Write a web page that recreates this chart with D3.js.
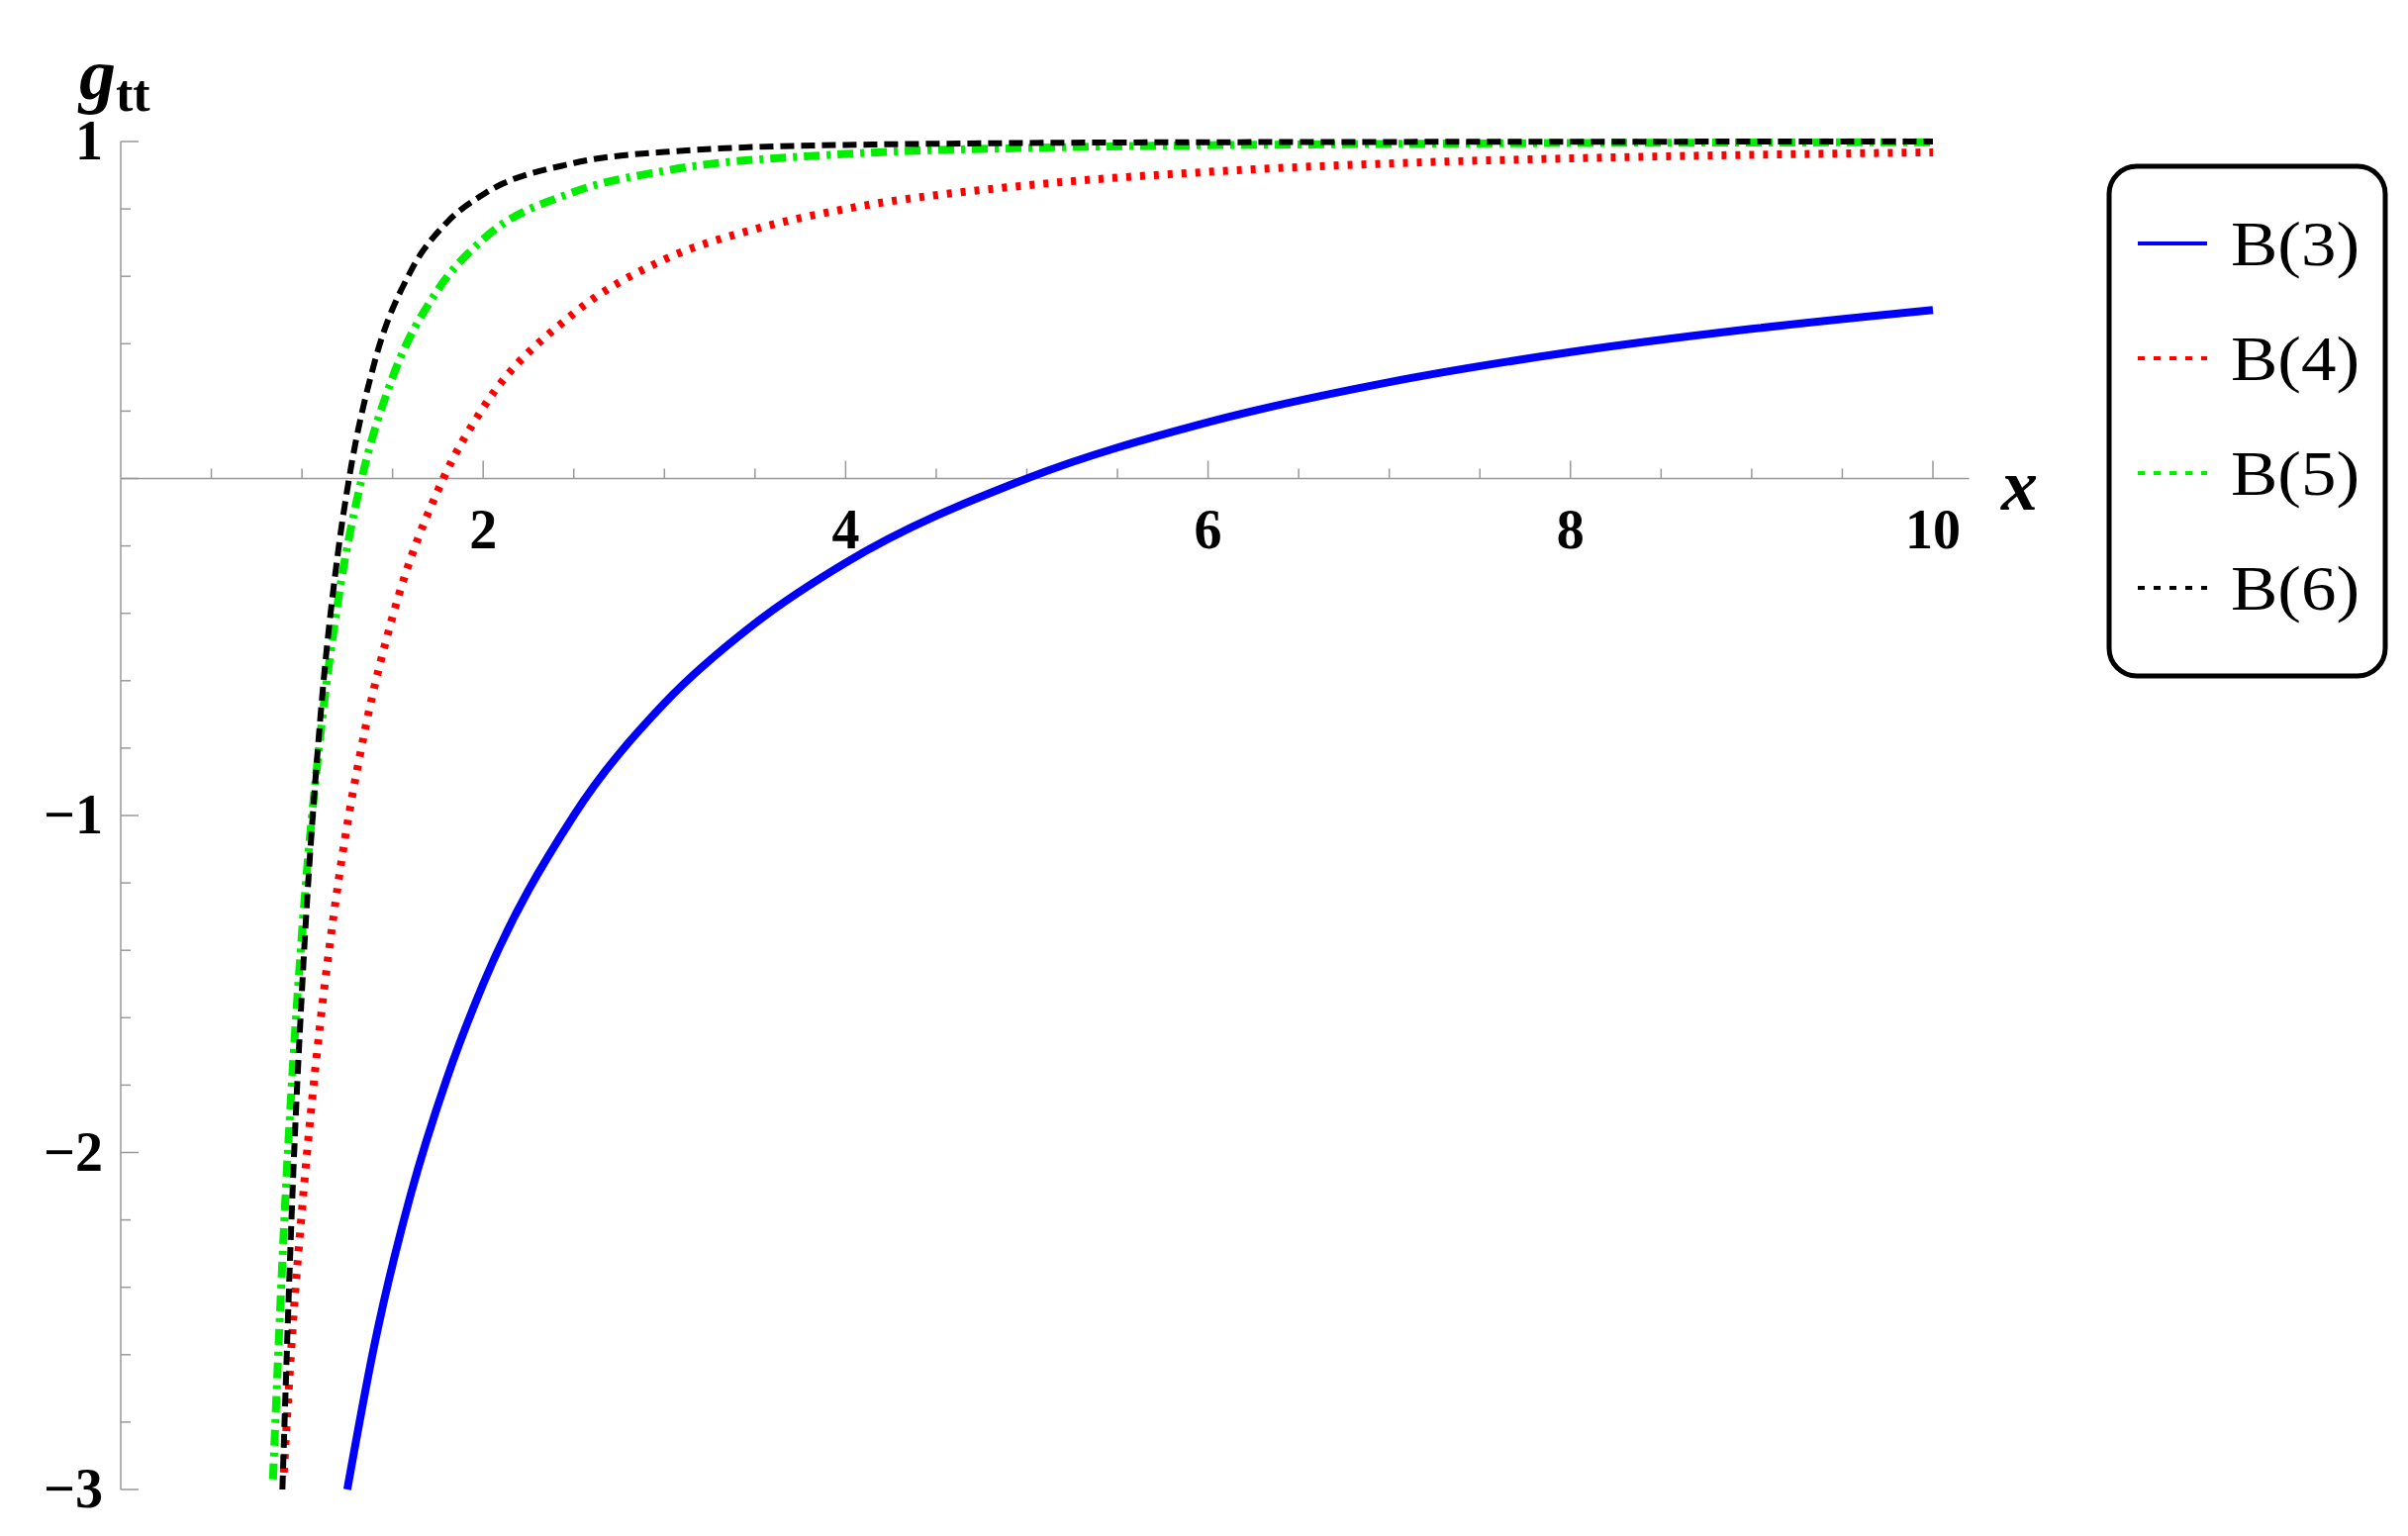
<!DOCTYPE html>
<html><head><meta charset="utf-8">
<script src="https://cdn.jsdelivr.net/npm/d3@7"></script>
<style>body{margin:0;background:#fff}</style></head>
<body><svg id="chart" width="2433" height="1552"></svg>
<script>
// curve samples: [x, g_tt]
const b3 = [[1.25,-3],[1.4,-2.57],[1.6,-2.125],[1.8,-1.78],[2,-1.5],[2.5,-1],[3,-0.667],[3.5,-0.43],[4,-0.25],[5,0],[6,0.167],[7,0.286],[8,0.375],[9,0.444],[10,0.5]];
const b4 = [[0.9,-2.95],[0.95,-2.51],[1,-2.17],[1.1,-1.62],[1.2,-1.2],[1.35,-0.74],[1.5,-0.41],[1.78,0],[2,0.21],[2.5,0.49],[3,0.65],[3.5,0.74],[4,0.8],[5,0.87],[6,0.91],[7,0.935],[8,0.95],[10,0.968]];
const b5 = [[0.84,-2.97],[0.9,-2.23],[1,-1.35],[1.1,-0.77],[1.2,-0.36],[1.33,0],[1.5,0.3],[1.75,0.56],[2,0.71],[2.5,0.85],[3,0.913],[4,0.963],[5,0.981],[7,0.993],[10,0.998]];
const b6 = [[0.892,-3],[0.95,-2.09],[1,-1.52],[1.1,-0.72],[1.2,-0.215],[1.26,0],[1.4,0.344],[1.6,0.615],[1.8,0.76],[2,0.843],[2.5,0.936],[3,0.969],[4,0.99],[6,0.998],[10,1]];
const seriesNames = ["B(3)","B(4)","B(5)","B(6)"];
const xTicks = [2,4,6,8,10];
const yTicks = [1,-1,-2,-3];

const styles = [
  {color:"#0000ff", dash:null, w:8},
  {color:"#ff0000", dash:"5,9", w:8},
  {color:"#00ee00", dash:"16,7,4,7", w:8},
  {color:"#000000", dash:"14,7", w:6}
];

const svg = d3.select("#chart");
const x = d3.scaleLinear().domain([0,10]).range([122,1953]);
const y = d3.scaleLinear().domain([-3,1]).range([1505,143]);
const font = "'Liberation Serif','Times New Roman',serif";

// axes through the origin
svg.append("line").attr("x1",x(0)).attr("x2",x(10.2)).attr("y1",y(0)).attr("y2",y(0)).attr("stroke","#999").attr("stroke-width",1.5);
svg.append("line").attr("x1",x(0)).attr("x2",x(0)).attr("y1",y(-3)).attr("y2",y(1)).attr("stroke","#999").attr("stroke-width",1.5);

d3.range(0.5,10.01,0.5).forEach(v=>{
  const major = v%2===0;
  svg.append("line").attr("x1",x(v)).attr("x2",x(v)).attr("y1",y(0)).attr("y2",y(0)-(major?18:10)).attr("stroke","#999").attr("stroke-width",1.5);
});
d3.range(-3,1.001,0.2).forEach(v=>{
  const major = Math.abs(v-Math.round(v))<1e-6;
  svg.append("line").attr("x1",x(0)).attr("x2",x(0)+(major?18:10)).attr("y1",y(v)).attr("y2",y(v)).attr("stroke","#999").attr("stroke-width",1.5);
});

svg.selectAll(".xt").data(xTicks).enter().append("text")
  .attr("x",d=>x(d)).attr("y",y(0)+70).attr("text-anchor","middle")
  .attr("font-family",font).attr("font-weight","bold").attr("font-size",56).text(d=>d);
svg.selectAll(".yt").data(yTicks).enter().append("text")
  .attr("x",x(0)-18).attr("y",d=>y(d)+18).attr("text-anchor","end")
  .attr("font-family",font).attr("font-weight","bold").attr("font-size",56).text(d=>d<0?"\u2212"+(-d):d);

// axis labels
const gl = svg.append("text").attr("x",80).attr("y",100).attr("font-family",font).attr("font-weight","bold").attr("font-size",74);
gl.append("tspan").attr("font-style","italic").text("g");
gl.append("tspan").attr("font-size",52).attr("dy",12).text("tt");
svg.append("text").attr("x",2022).attr("y",515).attr("font-family",font).attr("font-weight","bold").attr("font-style","italic").attr("font-size",74).text("x");

const line = d3.line().x(d=>x(d[0])).y(d=>y(d[1])).curve(d3.curveMonotoneX);
[b3,b4,b5,b6].forEach((data,i)=>{
  svg.append("path").datum(data).attr("d",line).attr("fill","none")
    .attr("stroke",styles[i].color).attr("stroke-width",styles[i].w)
    .attr("stroke-dasharray",styles[i].dash);
});

// legend
svg.append("rect").attr("x",2131).attr("y",168).attr("width",279).attr("height",515).attr("rx",28)
  .attr("fill","#fff").attr("stroke","#000").attr("stroke-width",5);
seriesNames.forEach((n,i)=>{
  const ly = 246 + i*116;
  svg.append("line").attr("x1",2160).attr("x2",2230).attr("y1",ly).attr("y2",ly)
    .attr("stroke",styles[i].color).attr("stroke-width",4).attr("stroke-dasharray",i?"7,9":null);
  svg.append("text").attr("x",2254).attr("y",ly+22).attr("font-family",font).attr("font-size",64)
    .attr("textLength",130).attr("lengthAdjust","spacingAndGlyphs").text(n);
});
</script></body></html>
